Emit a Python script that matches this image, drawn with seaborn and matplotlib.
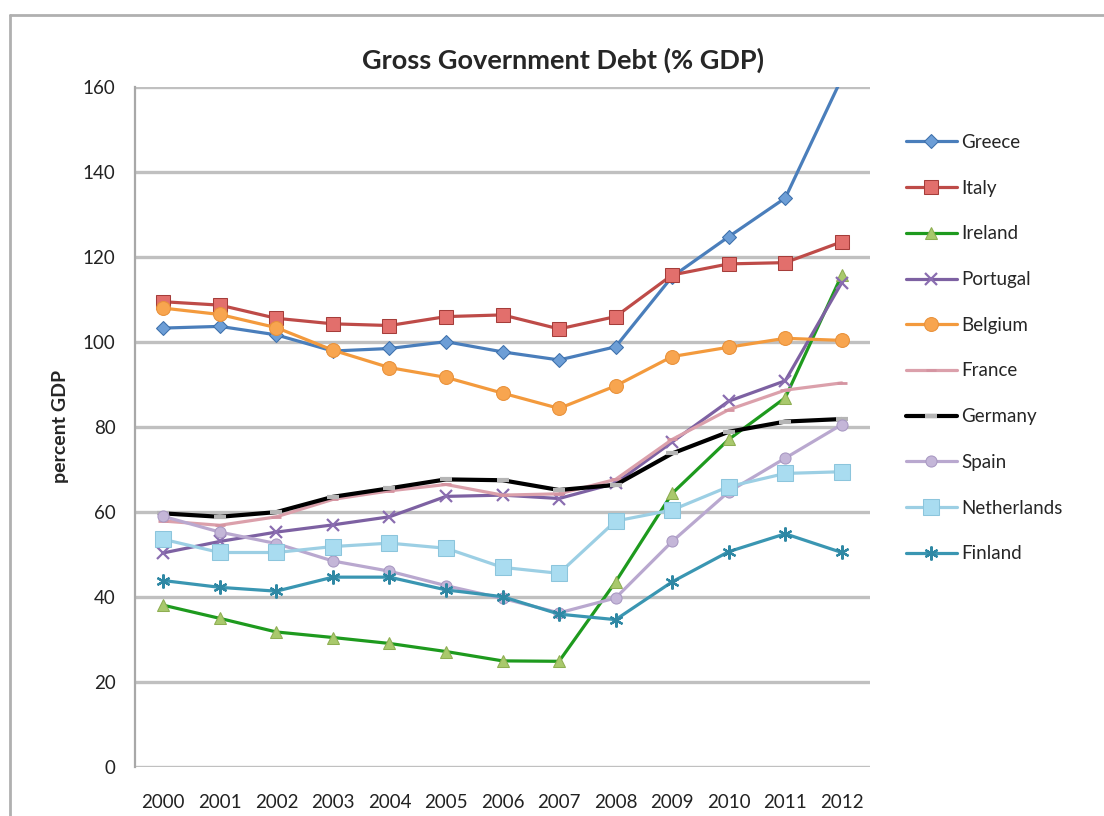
import matplotlib
matplotlib.use("Agg")
import matplotlib.pyplot as plt
from matplotlib.lines import Line2D
import pandas as pd
import seaborn as sns

# Data
years = list(range(2000, 2013))
countries = ["Greece", "Italy", "Ireland", "Portugal", "Belgium",
             "France", "Germany", "Spain", "Netherlands", "Finland"]

greece = [103.2, 103.6, 101.6, 97.8, 98.4, 100.0, 97.6, 95.7, 98.8, 115.3, 124.7, 133.8, 162.0]
italy = [109.4, 108.6, 105.5, 104.2, 103.8, 105.9, 106.3, 103.0, 105.9, 115.7, 118.3, 118.6, 123.5]
ireland = [38.0, 34.9, 31.7, 30.4, 29.0, 27.1, 24.9, 24.8, 43.5, 64.3, 77.0, 86.8, 115.7]
portugal = [50.3, 53.0, 55.2, 56.9, 58.8, 63.6, 63.9, 63.1, 66.7, 76.4, 86.0, 90.8, 113.9]
belgium = [107.9, 106.4, 103.3, 98.0, 93.9, 91.6, 87.9, 84.3, 89.6, 96.5, 98.7, 100.8, 100.3]
france = [57.8, 56.8, 58.8, 62.9, 64.9, 66.4, 63.9, 64.2, 67.6, 77.0, 84.0, 88.6, 90.3]
germany = [59.6, 58.8, 59.9, 63.5, 65.5, 67.6, 67.4, 65.1, 66.3, 73.7, 78.8, 81.2, 81.8]
spain = [58.9, 55.2, 52.5, 48.4, 46.0, 42.6, 39.6, 36.2, 39.7, 53.0, 64.7, 72.6, 80.5]
netherlands = [53.5, 50.4, 50.4, 51.8, 52.6, 51.4, 46.9, 45.5, 57.8, 60.4, 65.9, 69.0, 69.4]
finland = [43.8, 42.2, 41.3, 44.6, 44.6, 41.6, 40.0, 35.9, 34.6, 43.5, 50.6, 54.8, 50.4]

series = [greece, italy, ireland, portugal, belgium,
          france, germany, spain, netherlands, finland]

# line / marker styles per country
styles = {
    "Greece": dict(color="#4a7ebb", marker="D", markersize=7, lw=2.3,
                   markerfacecolor="#6d9ed6", markeredgecolor="#3d6fab"),
    "Italy": dict(color="#be4b48", marker="s", markersize=10, lw=2.3,
                  markerfacecolor="#e26f6c", markeredgecolor="#a53d3a"),
    "Ireland": dict(color="#1e9a1e", marker="^", markersize=9, lw=2.3,
                    markerfacecolor="#a9c96c", markeredgecolor="#8eae52"),
    "Portugal": dict(color="#7d61a2", marker="x", markersize=9, lw=2.3,
                     markeredgewidth=1.6, markeredgecolor="#8a6db0"),
    "Belgium": dict(color="#f39a3d", marker="o", markersize=10, lw=2.3,
                    markerfacecolor="#f8a54f", markeredgecolor="#e8913a"),
    "France": dict(color="#dba0ab", marker="_", markersize=7, lw=2.3,
                   markeredgewidth=2, markeredgecolor="#d594a1"),
    "Germany": dict(color="black", marker="_", markersize=9, lw=3.0,
                    markeredgewidth=3, markeredgecolor="#b5b5b5"),
    "Spain": dict(color="#b9a8cf", marker="o", markersize=8, lw=2.3,
                  markerfacecolor="#c4b6d8", markeredgecolor="#a898c2"),
    "Netherlands": dict(color="#9ccfe4", marker="s", markersize=11, lw=2.3,
                        markerfacecolor="#a9dcf0", markeredgecolor="#8cc5dc"),
    "Finland": dict(color="#3a96b2", marker=(6, 2, 0), markersize=10, lw=2.3,
                    markeredgewidth=1.6, markeredgecolor="#2f88a4"),
}

rows = []
for name, vals in zip(countries, series):
    for y, v in zip(years, vals):
        rows.append({"country": name, "year": y, "debt": v})
df = pd.DataFrame(rows)

sns.set_theme(style="white")
plt.rcParams["font.family"] = ["Lato", "DejaVu Sans"]

fig = plt.figure(figsize=(11.04, 8.16), dpi=100)
ax = fig.add_axes([0.1223, 0.0604, 0.6658, 0.8334])

for name in countries:
    sub = df[df["country"] == name]
    sns.lineplot(data=sub, x="year", y="debt", ax=ax, label=name,
                 **styles[name])

ax.set_xlim(1999.5, 2012.5)
ax.set_ylim(0, 160)
ax.set_yticks(range(0, 161, 20))
ax.set_xticks(years)
ax.set_xticklabels([str(y) for y in years])
ax.yaxis.grid(True, color="#c0c0c0", lw=2.4)
ax.set_axisbelow(True)
ax.tick_params(axis="both", length=0, labelsize=13.5, colors="#222222")
ax.tick_params(axis="y", pad=14)
ax.tick_params(axis="x", pad=20)
for side in ["top", "right", "bottom"]:
    ax.spines[side].set_visible(False)
ax.spines["left"].set_color("#a8a8a8")
ax.spines["left"].set_linewidth(1.6)
ax.set_xlabel("")
ax.set_ylabel("percent GDP", fontsize=14, fontweight="bold", labelpad=10)

fig.text(0.51, 1 - 60 / 816, "Gross Government Debt (% GDP)",
         ha="center", va="center", fontsize=19.5, fontweight="bold")

ax.legend(loc="upper left", bbox_to_anchor=(906 / 1104, 1 - 134 / 816),
          bbox_transform=fig.transFigure, frameon=False, fontsize=13.5,
          labelspacing=1.53, handlelength=2.7, handletextpad=0.25,
          borderpad=0, borderaxespad=0)

# outer chart border
fig.add_artist(Line2D([10 / 1104, 1], [1 - 15 / 816, 1 - 15 / 816],
                      transform=fig.transFigure, color="#b0b0b0", lw=2))
fig.add_artist(Line2D([10 / 1104, 10 / 1104], [0, 1 - 15 / 816],
                      transform=fig.transFigure, color="#b0b0b0", lw=2))

fig.savefig("out.png", dpi=100)
